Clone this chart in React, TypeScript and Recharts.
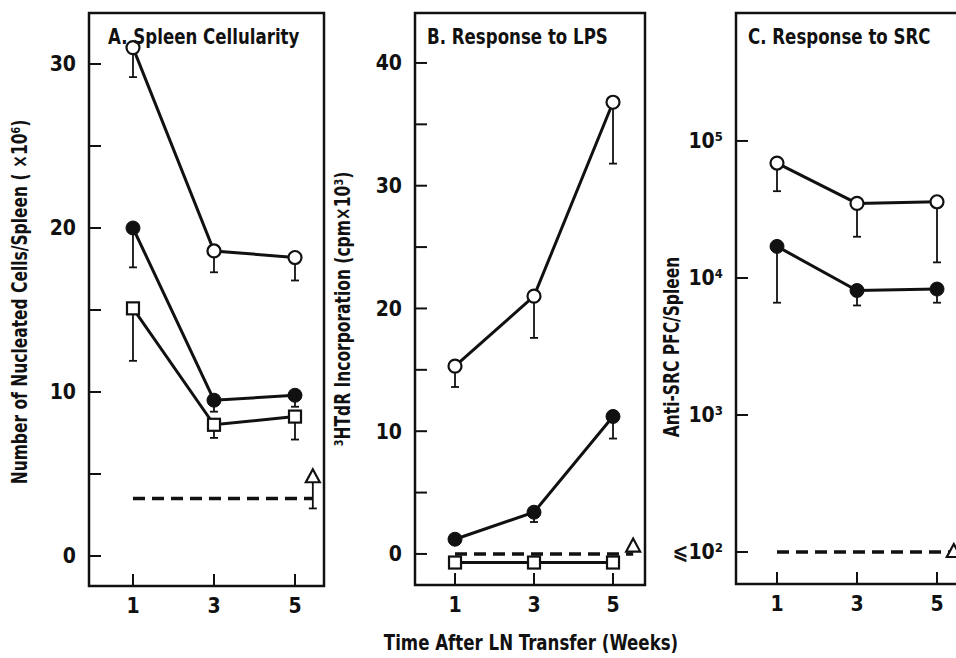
import React from 'react';
import { LineChart, Line, XAxis, YAxis, ErrorBar, ReferenceArea } from 'recharts';

const FONT = "'Liberation Sans Narrow', 'DejaVu Sans Condensed', 'Roboto Condensed', 'Arial Narrow', sans-serif";
const INK = '#111';

const weeks = [1, 3, 5];
const weekTicks = [1, 3, 5];

// A. spleen cellularity (x10^6)
const cellsOpen = [31.0, 18.6, 18.2];
const cellsOpenLow = [29.2, 17.3, 16.8];
const cellsFilled = [20.0, 9.5, 9.8];
const cellsFilledLow = [17.6, 8.8, 9.1];
const cellsSquare = [15.1, 8.0, 8.5];
const cellsSquareLow = [11.9, 7.2, 7.1];
const cellsBaseline = 3.5;
const cellsTriangle = [4.8];
const cellsTriangleLow = [2.9];
const cellsTicks = [0, 5, 10, 15, 20, 25, 30];

// B. response to LPS (cpm x10^3)
const lpsOpen = [15.3, 21.0, 36.8];
const lpsOpenLow = [13.6, 17.6, 31.8];
const lpsFilled = [1.2, 3.4, 11.2];
const lpsFilledLow = [1.2, 2.6, 9.4];
const lpsSquare = [-0.7, -0.7, -0.7];
const lpsBaseline = 0;
const lpsTriangle = [0.6];
const lpsTicks = [0, 5, 10, 15, 20, 25, 30, 35, 40];

// C. response to SRC (PFC/spleen)
const srcOpen = [69000, 35000, 36000];
const srcOpenLow = [43000, 20000, 13000];
const srcFilled = [17000, 8100, 8300];
const srcFilledLow = [6600, 6300, 6600];
const srcBaseline = 100;
const srcTriangle = [100];
const srcTicks = [100, 1000, 10000, 100000];
const srcTickLabels = ['⩽10²', '10³', '10⁴', '10⁵'];

const triangleWeek = [5.44, 5.51, 5.42];

const rows = (xs: number[], ys: number[], lows: number[]) =>
  xs.map((x, i) => ({ x, y: ys[i], err: [ys[i] - lows[i], 0] }));
const flat = (v: number, end: number) => [{ x: 1, y: v }, { x: end, y: v }];

const OpenCircle = (p: any) => (
  <circle key={p.index} cx={p.cx} cy={p.cy} r={6.5} fill="#fff" stroke={INK} strokeWidth={2.2} />
);
const FilledCircle = (p: any) => (
  <circle key={p.index} cx={p.cx} cy={p.cy} r={7} fill={INK} stroke={INK} strokeWidth={1} />
);
const Square = (p: any) => (
  <rect key={p.index} x={p.cx - 6} y={p.cy - 6} width={12} height={12} fill="#fff" stroke={INK} strokeWidth={2.2} />
);
const Triangle = (p: any) => (
  <polygon key={p.index} points={`${p.cx},${p.cy - 8} ${p.cx - 7},${p.cy + 5} ${p.cx + 7},${p.cy + 5}`}
    fill="#fff" stroke={INK} strokeWidth={2.2} strokeLinejoin="miter" />
);

type Series = { data: any[]; dot: any; dashed?: boolean; err?: boolean; solid?: boolean };

const tickStyle = { fill: INK, fontSize: 21, fontFamily: FONT, fontWeight: 700 };

function Panel(props: {
  left: number; top: number; plotW: number; plotH: number;
  xDomain: number[]; yDomain: number[]; yTicks: number[];
  yFormat: (v: number) => string; logY?: boolean; series: Series[];
}) {
  const { left, top, plotW, plotH, xDomain, yDomain, yTicks, yFormat, logY, series } = props;
  const yW = 70;
  return (
    <div style={{ position: 'absolute', left: left - yW, top: top - 5 }}>
      <LineChart width={yW + plotW + 5} height={plotH + 5 + 50}
        margin={{ top: 5, right: 5, left: 0, bottom: 0 }}>
        <XAxis type="number" dataKey="x" domain={xDomain} ticks={weekTicks} allowDataOverflow
          axisLine={false} tickSize={-12} tickMargin={24} height={50}
          tickLine={{ stroke: INK, strokeWidth: 2 }} tick={tickStyle} />
        <YAxis type="number" dataKey="y" domain={yDomain} ticks={yTicks} allowDataOverflow
          scale={logY ? 'log' : 'auto'} width={yW} axisLine={false}
          tickSize={-12} tickMargin={25} tickFormatter={yFormat}
          tickLine={{ stroke: INK, strokeWidth: 2 }} tick={tickStyle} />
        <ReferenceArea x1={xDomain[0]} x2={xDomain[1]} y1={yDomain[0]} y2={yDomain[1]}
          fill="none" stroke={INK} strokeWidth={2.5} ifOverflow="visible" />
        {series.map((s, i) => (
          <Line key={i} data={s.data} dataKey="y" type="linear" stroke={INK}
            strokeWidth={s.solid === false ? 0 : s.dashed ? 3.5 : 3}
            strokeDasharray={s.dashed ? '12 7' : undefined}
            dot={s.dot} activeDot={false} isAnimationActive={false}>
            {s.err && <ErrorBar dataKey="err" direction="y" width={4} stroke={INK} strokeWidth={1.8} />}
          </Line>
        ))}
      </LineChart>
    </div>
  );
}

const textStyle: React.CSSProperties = {
  position: 'absolute', fontFamily: FONT, fontWeight: 700, color: INK, whiteSpace: 'nowrap',
};

// rotated axis title, centred on (x, y)
function VLabel({ x, y, children }: { x: number; y: number; children: React.ReactNode }) {
  return (
    <div style={{ ...textStyle, left: x - 300, top: y - 15, width: 600, height: 30, lineHeight: '30px',
      textAlign: 'center', fontSize: 21, transform: 'rotate(-90deg) scaleX(0.82)' }}>{children}</div>
  );
}

function Title({ x, children }: { x: number; children: React.ReactNode }) {
  return (
    <div style={{ ...textStyle, left: x, top: 24, fontSize: 22, transform: 'scaleX(0.84)',
      transformOrigin: 'left center' }}>{children}</div>
  );
}

export default function App() {
  const tens = (v: number) => (v % 10 === 0 ? String(v) : '');
  return (
    <div style={{ position: 'absolute', left: 0, top: 0, width: 956, height: 658, overflow: 'hidden', background: '#fff' }}>
      <Panel left={89} top={13} plotW={235} plotH={573}
        xDomain={[-0.086, 5.716]} yDomain={[-1.83, 33.11]} yTicks={cellsTicks} yFormat={tens}
        series={[
          { data: flat(cellsBaseline, triangleWeek[0]), dot: false, dashed: true },
          { data: rows(weeks, cellsSquare, cellsSquareLow), dot: Square, err: true },
          { data: rows(weeks, cellsFilled, cellsFilledLow), dot: FilledCircle, err: true },
          { data: rows(weeks, cellsOpen, cellsOpenLow), dot: OpenCircle, err: true },
          { data: rows([triangleWeek[0]], cellsTriangle, cellsTriangleLow), dot: Triangle, err: true, solid: false },
        ]} />
      <Panel left={415} top={13} plotW={230} plotH={572}
        xDomain={[-0.013, 5.81]} yDomain={[-2.53, 44.07]} yTicks={lpsTicks} yFormat={tens}
        series={[
          { data: flat(lpsBaseline, triangleWeek[1]), dot: false, dashed: true },
          { data: rows(weeks, lpsSquare, lpsSquare), dot: Square },
          { data: rows(weeks, lpsFilled, lpsFilledLow), dot: FilledCircle, err: true },
          { data: rows(weeks, lpsOpen, lpsOpenLow), dot: OpenCircle, err: true },
          { data: rows([triangleWeek[1]], lpsTriangle, lpsTriangle), dot: Triangle, solid: false },
        ]} />
      <Panel left={736} top={13} plotW={233} plotH={571} logY
        xDomain={[-0.025, 5.8]} yDomain={[58.4, 859000]} yTicks={srcTicks}
        yFormat={(v: number) => srcTickLabels[srcTicks.indexOf(v)] ?? ''}
        series={[
          { data: flat(srcBaseline, triangleWeek[2]), dot: false, dashed: true },
          { data: rows(weeks, srcFilled, srcFilledLow), dot: FilledCircle, err: true },
          { data: rows(weeks, srcOpen, srcOpenLow), dot: OpenCircle, err: true },
          { data: rows([triangleWeek[2]], srcTriangle, srcTriangle), dot: Triangle, solid: false },
        ]} />

      <Title x={108}>A. Spleen Cellularity</Title>
      <Title x={427}>B. Response to LPS</Title>
      <Title x={748}>C. Response to SRC</Title>

      <VLabel x={20} y={302}>Number of Nucleated Cells/Spleen ( ×10⁶)</VLabel>
      <VLabel x={343} y={309}>³HTdR Incorporation (cpm×10³)</VLabel>
      <VLabel x={672} y={347}>Anti-SRC PFC/Spleen</VLabel>

      <div style={{ ...textStyle, left: 531, top: 642, fontSize: 22, transform: 'translate(-50%, -50%) scaleX(0.84)' }}>
        Time After LN Transfer (Weeks)
      </div>
    </div>
  );
}
